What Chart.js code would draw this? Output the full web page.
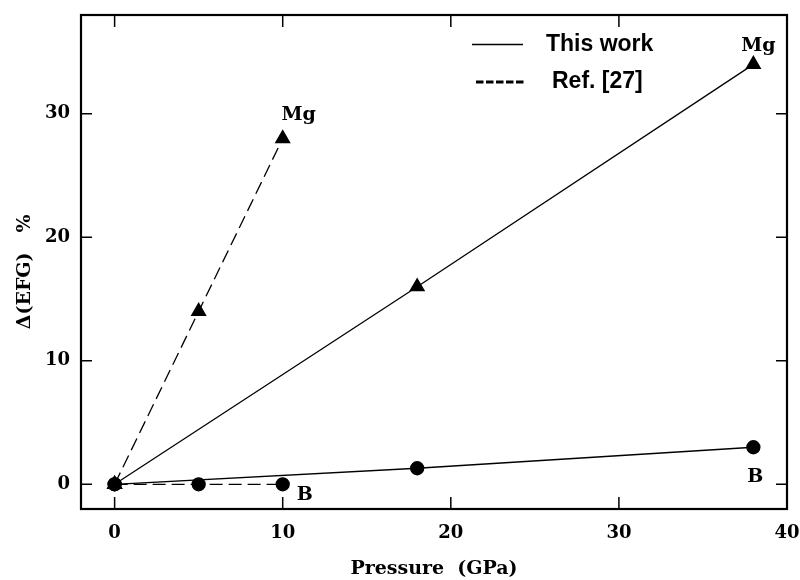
<!DOCTYPE html>
<html><head><meta charset="utf-8">
<script src="https://cdn.jsdelivr.net/npm/chart.js@4"></script>
<style>html,body{margin:0;padding:0;background:#fff}</style>
</head><body>
<canvas id="c" width="800" height="580"></canvas>
<script>
// ---- data ----
const thisWorkPressure = [0, 18, 38];
const thisWorkMg = [0, 16, 34];
const thisWorkB = [0, 1.3, 3];
const refPressure = [0, 5, 10];
const refMg = [0, 14, 28];
const refB = [0, 0, 0];
const xTickValues = [0, 10, 20, 30, 40];
const yTickValues = [0, 10, 20, 30];
const legendNames = ['This work', 'Ref. [27]'];
const labelTexts = ['Mg', 'Mg', 'B', 'B'];
const labelAtX = [38, 10, 38, 10];
const labelAtY = [34, 28, 3, 0];

const pts = (xs, ys) => xs.map((v, i) => ({x: v, y: ys[i]}));

const SERIF = '"DejaVu Serif", serif';
Chart.defaults.color = '#000';

const labelOffsets = [[5, -13], [16, -19], [2, 35], [22, 16]];

const framePlugin = {
  id: 'frame',
  afterDraw(chart) {
    const {ctx, chartArea: a, scales: {x, y}} = chart;
    ctx.save();
    ctx.strokeStyle = '#000';
    ctx.fillStyle = '#000';
    ctx.setLineDash([]);
    ctx.lineWidth = 1.5;
    ctx.beginPath();
    for (const t of x.ticks) {
      const px = x.getPixelForValue(t.value);
      ctx.moveTo(px, a.bottom); ctx.lineTo(px, a.bottom - 12);
      ctx.moveTo(px, a.top); ctx.lineTo(px, a.top + 12);
    }
    for (const t of y.ticks) {
      const py = y.getPixelForValue(t.value);
      ctx.moveTo(a.left, py); ctx.lineTo(a.left + 11, py);
      ctx.moveTo(a.right, py); ctx.lineTo(a.right - 11, py);
    }
    ctx.stroke();
    ctx.lineWidth = 2.2;
    ctx.strokeRect(a.left, a.top, a.right - a.left, a.bottom - a.top);

    // point labels
    ctx.font = 'bold 19px ' + SERIF;
    ctx.textAlign = 'center';
    ctx.textBaseline = 'alphabetic';
    labelTexts.forEach((t, i) => {
      const px = x.getPixelForValue(labelAtX[i]) + labelOffsets[i][0];
      const py = y.getPixelForValue(labelAtY[i]) + labelOffsets[i][1];
      ctx.fillText(t, px, py);
    });

    // legend
    ctx.lineWidth = 1.3;
    ctx.beginPath();
    ctx.moveTo(472, 44.5); ctx.lineTo(523, 44.5);
    ctx.stroke();
    ctx.lineWidth = 3;
    ctx.setLineDash([7.5, 2.5]);
    ctx.beginPath();
    ctx.moveTo(476, 82); ctx.lineTo(526, 82);
    ctx.stroke();
    ctx.setLineDash([]);
    ctx.font = 'bold 23px "Liberation Sans", Arial, sans-serif';
    ctx.textAlign = 'left';
    ctx.textBaseline = 'middle';
    ctx.fillText(legendNames[0], 546, 45);
    ctx.fillText(legendNames[1], 552, 82);
    ctx.restore();
  }
};

const solid = {borderColor: '#000', borderWidth: 1.3, backgroundColor: '#000', pointBackgroundColor: '#000', pointBorderColor: '#000', showLine: true};
const dashed = Object.assign({}, solid, {borderDash: [13, 6]});

new Chart(document.getElementById('c'), {
  type: 'scatter',
  data: {
    datasets: [
      Object.assign({label: legendNames[0] + ' Mg', data: pts(thisWorkPressure, thisWorkMg), pointStyle: 'triangle', pointRadius: 8}, solid),
      Object.assign({label: legendNames[0] + ' B', data: pts(thisWorkPressure, thisWorkB), pointStyle: 'circle', pointRadius: 6.5}, solid),
      Object.assign({label: legendNames[1] + ' Mg', data: pts(refPressure, refMg), pointStyle: 'triangle', pointRadius: 8}, dashed),
      Object.assign({label: legendNames[1] + ' B', data: pts(refPressure, refB), pointStyle: 'circle', pointRadius: 6.5}, dashed)
    ]
  },
  options: {
    responsive: false,
    animation: false,
    layout: {padding: {left: 14, top: 15, right: 13, bottom: 0}},
    plugins: {legend: {display: false}, tooltip: {enabled: false}},
    scales: {
      x: {
        type: 'linear', min: -2, max: 40,
        afterBuildTicks: s => { s.ticks = xTickValues.map(v => ({value: v})); },
        afterFit: s => { s.height = 71; s.paddingLeft = 0; s.paddingRight = 0; },
        grid: {display: false, drawTicks: false},
        border: {display: false},
        ticks: {padding: 14, font: {family: SERIF, size: 18, weight: 'bold'}, color: '#000'},
        title: {display: true, text: 'Pressure  (GPa)', font: {family: SERIF, size: 19, weight: 'bold'}, color: '#000', padding: 0}
      },
      y: {
        type: 'linear', min: -2, max: 38,
        afterBuildTicks: s => { s.ticks = yTickValues.map(v => ({value: v})); },
        afterFit: s => { s.width = 67; s.paddingTop = 0; s.paddingBottom = 0; },
        grid: {display: false, drawTicks: false},
        border: {display: false},
        ticks: {padding: 11, font: {family: SERIF, size: 18, weight: 'bold'}, color: '#000'},
        title: {display: true, text: 'Δ(EFG)   %   ', font: {family: SERIF, size: 19, weight: 'bold'}, color: '#000', padding: 0}
      }
    }
  },
  plugins: [framePlugin]
});
</script>
</body></html>
